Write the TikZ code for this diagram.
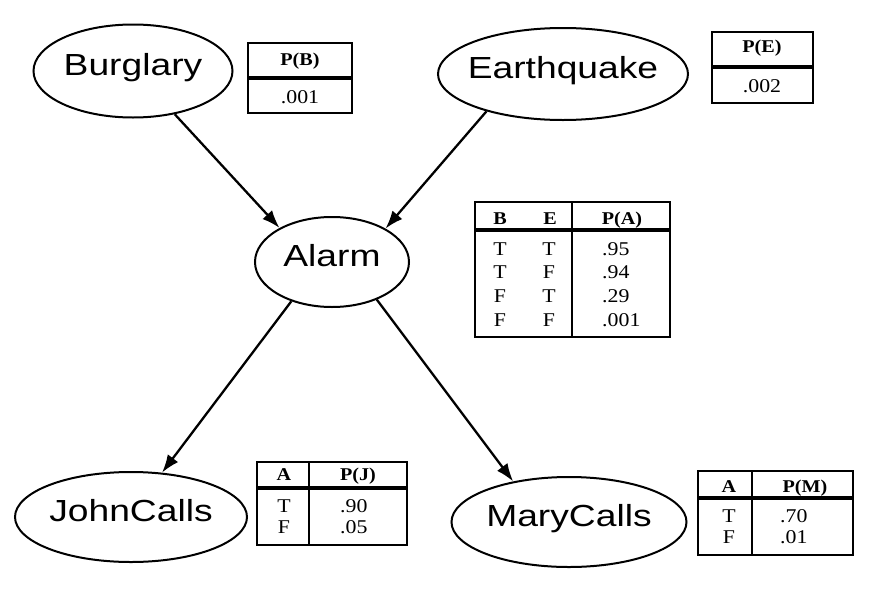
\documentclass[tikz,border=0pt]{standalone}
\usepackage{fontspec}
\newfontfamily\varfont[FakeStretch=1.22]{Liberation Sans}
\newfontfamily\cptfont[FakeStretch=1.12]{Liberation Serif}
\usetikzlibrary{shapes.geometric, arrows.meta}

\begin{document}
\begin{tikzpicture}[x=1pt,y=-1pt,>={Latex[length=18pt,width=13pt]},
        var/.style={draw,ellipse,line width=2pt,inner xsep=-8pt,inner ysep=0pt,
            text height=22pt,text depth=14pt,font=\varfont\fontsize{30.5}{36}\selectfont},
        cpt/.style={draw,line width=2pt},
        hdsep/.style={draw,line width=3.4pt},
        hd/.style={anchor=base,inner sep=0pt,font=\cptfont\bfseries\fontsize{18}{22}\selectfont},
        tf/.style={anchor=base,inner sep=0pt,font=\cptfont\fontsize{19.5}{23}\selectfont},
        val/.style={anchor=base west,inner sep=0pt,font=\cptfont\fontsize{19.5}{23}\selectfont}]
        \useasboundingbox (0,0) rectangle (873,592);

        % variables
        \node[var,minimum width=199pt,minimum height=93pt] (burglary) at (133,71) {Burglary};
        \node[var,minimum width=250pt,minimum height=92pt] (earthquake) at (563,74) {Earthquake};
        \node[var,minimum width=154pt,minimum height=90pt] (alarm) at (332,262) {Alarm};
        \node[var,minimum width=232pt,minimum height=90pt] (johncalls) at (131,517) {JohnCalls};
        \node[var,minimum width=235pt,minimum height=90pt] (marycalls) at (569,522) {MaryCalls};

        \path[->,line width=2.3pt] (burglary.-46) edge (alarm.147)
                (earthquake.206) edge (alarm.32)
                (alarm.224) edge (johncalls.55)
                (alarm.-40) edge (marycalls.144);

        % P(B)
        \draw[cpt] (248,43) rectangle (352,113);
        \draw[hdsep] (248,78) -- (352,78);
        \node[hd] (pb) at (300,65) {P(B)};
        \node[tf] (pbv) at (300,103) {.001};

        % P(E)
        \draw[cpt] (712,32) rectangle (813,103);
        \draw[hdsep] (712,67) -- (813,67);
        \node[hd] (pe) at (762,52) {P(E)};
        \node[tf] (pev) at (762,92) {.002};

        % P(A)
        \draw[cpt] (475,202) rectangle (670,337);
        \draw[hdsep] (475,230) -- (670,230);
        \draw[cpt] (572,202) -- (572,337);
        \node[hd] (ab) at (500,224) {B};
        \node[hd] (ae) at (550,224) {E};
        \node[hd] (pa) at (622,224) {P(A)};
        \foreach \b/\e/\p [count=\i] in {T/T/.95, T/F/.94, F/T/.29, F/F/.001} {
            \node[tf] (ab\i) at (500,231.5+23.7*\i) {\b};
            \node[tf] (ae\i) at (549,231.5+23.7*\i) {\e};
            \node[val] (pa\i) at (602,231.5+23.7*\i) {\p};
        }

        % P(J)
        \draw[cpt] (257,462) rectangle (407,545);
        \draw[hdsep] (257,488) -- (407,488);
        \draw[cpt] (309,462) -- (309,545);
        \node[hd] (ja) at (284,480) {A};
        \node[hd] (pj) at (358,480) {P(J)};
        \node[tf] (ja1) at (284,512) {T};
        \node[tf] (ja2) at (284,533) {F};
        \node[val] (pj1) at (340,512) {.90};
        \node[val] (pj2) at (340,533) {.05};

        % P(M)
        \draw[cpt] (698,471) rectangle (853,555);
        \draw[hdsep] (698,498) -- (853,498);
        \draw[cpt] (752,471) -- (752,555);
        \node[hd] (ma) at (729,492) {A};
        \node[hd] (pm) at (805,492) {P(M)};
        \node[tf] (ma1) at (729,522) {T};
        \node[tf] (ma2) at (729,543) {F};
        \node[val] (pm1) at (780,522) {.70};
        \node[val] (pm2) at (780,543) {.01};
\end{tikzpicture}
\end{document}
